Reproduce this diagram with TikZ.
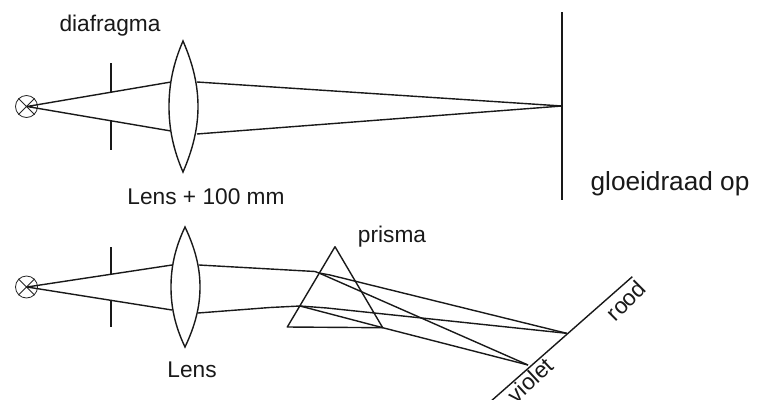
\documentclass[tikz,border=0pt]{standalone}
\usepackage{fontspec}
\setmainfont{Liberation Sans}
\tikzset{
  ray/.style={line width=1.4pt,black!90,line join=round},
  lensshape/.style={line width=1.4pt,black!90,fill=white},
  lamp/.style={line width=0.8pt,black!85},
  wall/.style={line width=1.4pt,black!90},
  lbl/.style={inner sep=0pt,text=black!90,font=\fontsize{22.7}{24}\selectfont},
  lblbig/.style={inner sep=0pt,text=black!90,font=\fontsize{26.2}{28}\selectfont}
}
\begin{document}
\begin{tikzpicture}[x=1pt,y=-1pt]
\useasboundingbox (0,0) rectangle (770,399);
\clip (0,0) rectangle (770,399);
\fill[white] (0,0) rectangle (770,399);
% top system
\coordinate (src1) at (27,106.5);
\node[circle,draw,lamp,minimum size=22pt,inner sep=0pt] (lamp1) at (26.5,106.5) {};
\draw[lamp] (lamp1.45) -- (lamp1.225) (lamp1.135) -- (lamp1.315);
\coordinate (d1a) at (110.5,63); \coordinate (d1b) at (110.5,92);
\coordinate (d1c) at (110.5,121); \coordinate (d1d) at (110.5,150);
\draw[wall] ([xshift=0.5pt]d1a) -- ([xshift=0.5pt]d1b) ([xshift=0.5pt]d1c) -- ([xshift=0.5pt]d1d);
\coordinate (l1u) at (171,82); \coordinate (l1d) at (171,131);
\coordinate (r1u) at (197,82); \coordinate (r1d) at (197,134);
\coordinate (f1) at (562,106);
\coordinate (s1a) at (562,12); \coordinate (s1b) at (562,200);
\draw[ray] (src1) -- (l1u) (src1) -- (l1d);
\draw[ray] (r1u) -- (f1) -- (r1d);
\draw[wall] (s1a) -- (s1b);
\draw[lensshape] (183,41) .. controls (173,64) and (169,85) .. (169,106.5)
  .. controls (169,128) and (173,149) .. (183,172)
  .. controls (193,149) and (198,128) .. (198,106.5)
  .. controls (198,85) and (193,64) .. (183,41) -- cycle;
% bottom system
\coordinate (src2) at (27,287);
\node[circle,draw,lamp,minimum size=22pt,inner sep=0pt] (lamp2) at (26.5,287) {};
\draw[lamp] (lamp2.45) -- (lamp2.225) (lamp2.135) -- (lamp2.315);
\coordinate (d2a) at (111,247); \coordinate (d2b) at (111,274);
\coordinate (d2c) at (111,300); \coordinate (d2d) at (111,327);
\draw[wall] (d2a) -- (d2b) (d2c) -- (d2d);
\coordinate (l2u) at (172,265); \coordinate (l2d) at (172,310);
\coordinate (r2u) at (199,265); \coordinate (r2d) at (198,313);
\draw[ray] (src2) -- (l2u) (src2) -- (l2d);
\draw[lensshape] (185,227) .. controls (175,248) and (171,267) .. (171,287)
  .. controls (171,307) and (175,326) .. (185,347)
  .. controls (195,326) and (200,307) .. (200,287)
  .. controls (200,267) and (195,248) .. (185,227) -- cycle;
% prism
\coordinate (pa) at (335,246.7); \coordinate (pl) at (287.3,327); \coordinate (pr) at (382.7,327.7);
\draw[ray] (pa) -- (pl) -- (pr) -- cycle;
\coordinate (e1) at (319,273); \coordinate (e2) at (300,306);
\coordinate (rood) at (566.7,333.3); \coordinate (vio) at (528,365);
\coordinate (s2a) at (632.3,276.7); \coordinate (s2b) at (490,402);
\draw[ray] (r2u) -- (315,271.5) -- (e1) (r2d) -- (270,307.5) -- (e2);
\draw[ray] (e1) -- (330,275) -- (rood);
\draw[ray] (e1) -- (vio);
\draw[ray] (e2) -- (327,308) -- (rood);
\draw[ray] (e2) -- (pr) -- (vio);
\draw[wall] (s2a) -- (s2b);
% labels
\node[lbl,anchor=base] (t1) at (110,31) {diafragma};
\node[lbl,anchor=base] (t2) at (206,204) {Lens + 100 mm};
\node[lblbig,anchor=base] (t3) at (670,190) {gloeidraad op};
\node[lbl,anchor=base] (t4) at (392,242) {prisma};
\node[lbl,anchor=base] (t5) at (192,377) {Lens};
\node[lbl,rotate=45] (t6) at (626,300.5) {rood};
\node[lbl,rotate=43] (t7) at (530,380) {violet};
\end{tikzpicture}
\end{document}
